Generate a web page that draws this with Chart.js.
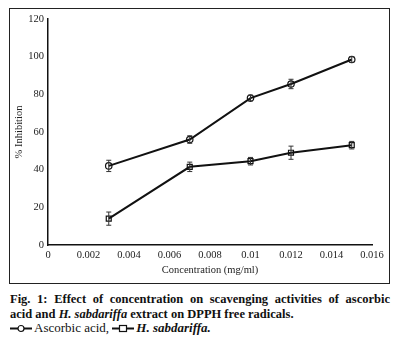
<!DOCTYPE html>
<html>
<head>
<meta charset="utf-8">
<script src="https://cdn.jsdelivr.net/npm/chart.js@4/dist/chart.umd.min.js"></script>
<style>
  html, body { margin: 0; padding: 0; background: #fff; }
  body { width: 402px; height: 345px; position: relative; overflow: hidden; }
  #frame { position: absolute; left: 9px; top: 8px; width: 381px; height: 276px; box-sizing: border-box; border: 1px solid #222; }
  #wrap { position: absolute; left: 0; top: 0; width: 402px; height: 290px; }
  #caption { position: absolute; left: 10px; top: 292px; width: 380px; font-family: "Liberation Serif", "Times New Roman", Times, serif; font-size: 12.5px; line-height: 14.5px; color: #111; }
  #caption .l1 { text-align: justify; text-align-last: justify; font-weight: bold; white-space: nowrap; }
  #caption .l2 { font-weight: bold; }
  #caption .l3 { font-size: 13px; }
  #caption svg { vertical-align: -1px; margin-right: 2px; }
</style>
</head>
<body>
<div id="frame"></div>
<div id="wrap"><canvas id="chart" width="402" height="290"></canvas></div>
<div id="caption">
  <div class="l1">Fig. 1: Effect of concentration on scavenging activities of ascorbic</div>
  <div class="l2">acid and <i>H. sabdariffa</i> extract on DPPH free radicals.</div>
  <div class="l3"><svg width="22" height="9"><line x1="0" y1="4.5" x2="22" y2="4.5" stroke="#111" stroke-width="2"/><circle cx="11" cy="4.5" r="3" fill="#fff" stroke="#111" stroke-width="1.2"/></svg>Ascorbic acid, <svg width="22" height="9"><line x1="0" y1="4.5" x2="22" y2="4.5" stroke="#111" stroke-width="2"/><rect x="7.5" y="1.5" width="7" height="6" fill="#fff" stroke="#111" stroke-width="1.2"/></svg><b><i>H. sabdariffa.</i></b></div>
</div>
<script>
// Concentrations tested (mg/ml)
const concentrations = [0.003, 0.007, 0.01, 0.012, 0.015];

// % inhibition of DPPH radicals and their standard deviations
const ascorbicValues = [42, 56, 78, 85.5, 98.5];
const ascorbicErrors = [3, 2, 1.5, 2.5, 1.5];
const sabdariffaValues = [14, 41.5, 44.5, 49, 53];
const sabdariffaErrors = [3.5, 2.5, 2, 3.5, 2];

// Axis ticks
const xTickValues = [0, 0.002, 0.004, 0.006, 0.008, 0.01, 0.012, 0.014, 0.016];
const xTickLabels = ['0', '0.002', '0.004', '0.006', '0.008', '0.01', '0.012', '0.014', '0.016'];
const yTickValues = [0, 20, 40, 60, 80, 100, 120];
const yTickLabels = ['0', '20', '40', '60', '80', '100', '120'];

const toPoints = (vals) => vals.map((v, i) => ({ x: concentrations[i], y: v }));

// Vertical error bars with caps, positioned through the chart's scales
const errorBars = {
  id: 'errorBars',
  afterDatasetsDraw(chart) {
    const { ctx, scales: { x, y } } = chart;
    ctx.save();
    ctx.strokeStyle = '#333';
    ctx.lineWidth = 1;
    chart.data.datasets.forEach((ds) => {
      ds.errors.forEach((err, i) => {
        const px = x.getPixelForValue(ds.data[i].x);
        const top = y.getPixelForValue(ds.data[i].y + err);
        const bot = y.getPixelForValue(ds.data[i].y - err);
        ctx.beginPath();
        ctx.moveTo(px, top); ctx.lineTo(px, bot);
        ctx.moveTo(px - 2.5, top); ctx.lineTo(px + 2.5, top);
        ctx.moveTo(px - 2.5, bot); ctx.lineTo(px + 2.5, bot);
        ctx.stroke();
      });
    });
    ctx.restore();
  }
};

const font = { family: "'Liberation Serif', 'Times New Roman', Times, serif", size: 10.5 };

new Chart(document.getElementById('chart'), {
  type: 'line',
  data: {
    datasets: [
      {
        label: 'Ascorbic acid',
        data: toPoints(ascorbicValues),
        errors: ascorbicErrors,
        borderColor: '#111',
        borderWidth: 2,
        pointStyle: 'circle',
        pointRadius: 3.2,
        pointBorderWidth: 1.2,
        pointBorderColor: '#111',
        pointBackgroundColor: 'rgba(255,255,255,0)',
        tension: 0
      },
      {
        label: 'H. sabdariffa',
        data: toPoints(sabdariffaValues),
        errors: sabdariffaErrors,
        borderColor: '#111',
        borderWidth: 2,
        pointStyle: 'rect',
        pointRadius: 3.5,
        pointBorderWidth: 1.2,
        pointBorderColor: '#111',
        pointBackgroundColor: 'rgba(255,255,255,0)',
        tension: 0
      }
    ]
  },
  options: {
    responsive: false,
    animation: false,
    layout: { padding: { left: 10, right: 30, top: 19, bottom: 10 } },
    plugins: { legend: { display: false }, tooltip: { enabled: false } },
    scales: {
      x: {
        type: 'linear',
        min: 0,
        max: 0.016,
        afterBuildTicks: (s) => { s.ticks = xTickValues.map(v => ({ value: v })); },
        afterFit: (s) => { s.height = 35; },
        grid: { display: false, drawTicks: false },
        border: { display: true, color: '#111', width: 1.5 },
        ticks: {
          padding: 4,
          maxRotation: 0,
          autoSkip: false,
          color: '#222',
          font,
          callback: (v, i) => xTickLabels[i]
        },
        title: { display: true, text: 'Concentration (mg/ml)', color: '#222', font, padding: { top: 0, bottom: 3 } }
      },
      y: {
        min: 0,
        max: 120,
        afterBuildTicks: (s) => { s.ticks = yTickValues.map(v => ({ value: v })); },
        afterFit: (s) => { s.width = 38; },
        grid: { display: false, drawTicks: false },
        border: { display: true, color: '#111', width: 1.5 },
        ticks: {
          padding: 4,
          autoSkip: false,
          color: '#222',
          font,
          callback: (v, i) => yTickLabels[i]
        },
        title: { display: true, text: '% Inhibition', color: '#222', font, padding: { top: 3, bottom: 0 } }
      }
    }
  },
  plugins: [errorBars]
});
</script>
</body>
</html>
